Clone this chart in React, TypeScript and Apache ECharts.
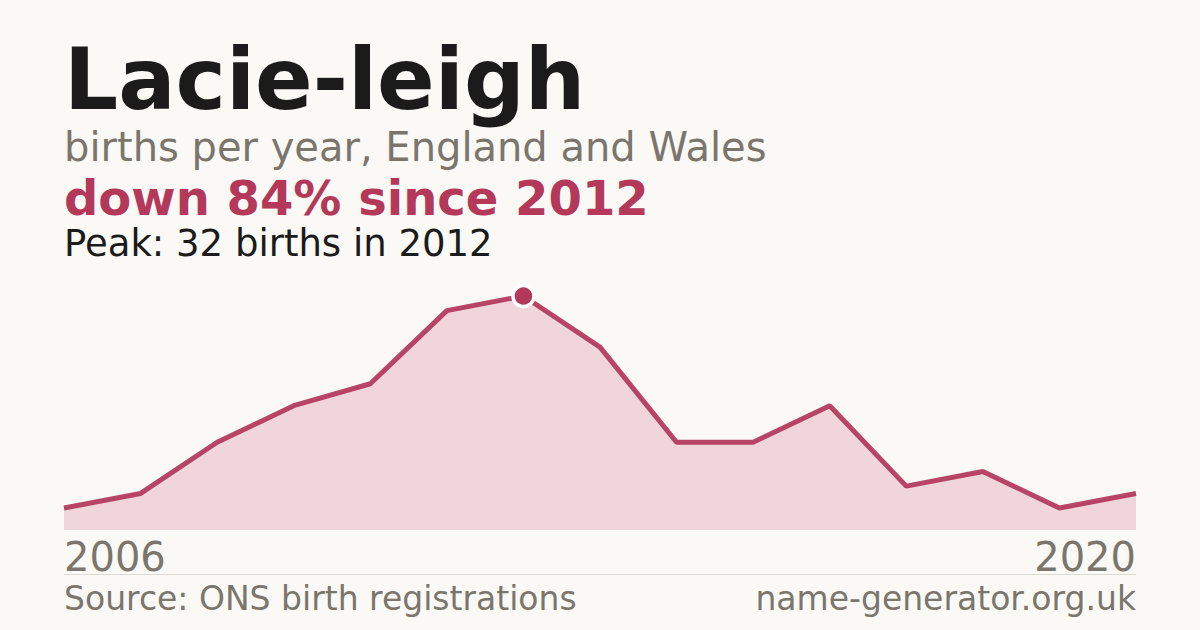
import React, { useEffect, useRef } from 'react';
import * as echarts from 'echarts';

// 数据
const years: string[] = [
  '2006', '2007', '2008', '2009', '2010', '2011', '2012', '2013',
  '2014', '2015', '2016', '2017', '2018', '2019', '2020',
];
const births: number[] = [3, 5, 12, 17, 20, 30, 32, 25, 12, 12, 17, 6, 8, 3, 5];

const name = 'Lacie-leigh';
const subtitle = 'births per year, England and Wales';
const changeText = 'down 84% since 2012';
const peakText = 'Peak: 32 births in 2012';
const sourceText = 'Source: ONS birth registrations';
const siteText = 'name-generator.org.uk';

const FONT = '"DejaVu Sans", Verdana, sans-serif';
const RED = '#b3385a';
const GREY = '#7a766e';

const App: React.FC = () => {
  const chartRef = useRef<HTMLDivElement | null>(null);

  useEffect(() => {
    if (!chartRef.current) return;
    const myChart = echarts.init(chartRef.current, null, { renderer: 'svg' });

    const peakIdx = births.indexOf(Math.max(...births));

    const option: echarts.EChartsOption = {
      animation: false,
      backgroundColor: '#faf9f5',
      grid: { left: 64, right: 64, top: 296, bottom: 100, containLabel: false },
      xAxis: {
        type: 'category',
        data: years,
        boundaryGap: false,
        axisLine: { show: false },
        axisTick: { show: false },
        axisLabel: {
          interval: (i: number) => i === 0 || i === years.length - 1,
          alignMinLabel: 'left',
          alignMaxLabel: 'right',
          margin: 7,
          color: GREY,
          fontSize: 40,
          fontFamily: FONT,
        },
      },
      yAxis: {
        type: 'value',
        min: 0,
        max: 32,
        show: false,
        splitLine: { show: false },
      },
      series: [
        {
          type: 'line',
          data: births,
          symbol: 'none',
          lineStyle: { color: RED, width: 5, opacity: 0.93 },
          areaStyle: { color: '#f0d5da', opacity: 1 },
          z: 2,
        },
        {
          type: 'scatter',
          data: [[years[peakIdx], births[peakIdx]]],
          symbol: 'circle',
          symbolSize: 21,
          itemStyle: { color: RED, borderColor: '#ffffff', borderWidth: 3.5, opacity: 1 },
          z: 3,
        },
      ],
      graphic: [
        {
          type: 'text',
          left: 64,
          top: 37,
          style: {
            text: name,
            font: `bold 85px ${FONT}`,
            lineHeight: 78,
            fill: '#1b1b1b',
          },
        },
        {
          type: 'text',
          left: 64,
          top: 127,
          style: {
            text: subtitle,
            font: `40px ${FONT}`,
            lineHeight: 40,
            fill: GREY,
          },
        },
        {
          type: 'text',
          left: 64,
          top: 174,
          style: {
            text: changeText,
            font: `bold 48px ${FONT}`,
            lineHeight: 48,
            fill: RED,
          },
        },
        {
          type: 'text',
          left: 64,
          top: 225,
          style: {
            text: peakText,
            font: `37px ${FONT}`,
            lineHeight: 37,
            fill: '#1b1b1b',
          },
        },
        {
          type: 'line',
          shape: { x1: 64, y1: 574.5, x2: 1136, y2: 574.5 },
          style: { stroke: '#dcd9d3', lineWidth: 1 },
        },
        {
          type: 'text',
          left: 64,
          top: 582,
          style: {
            text: sourceText,
            font: `33px ${FONT}`,
            fill: GREY,
          },
        },
        {
          type: 'text',
          right: 64,
          top: 582,
          style: {
            text: siteText,
            font: `33px ${FONT}`,
            fill: GREY,
          },
        },
      ],
    };

    myChart.setOption(option);
    return () => {
      myChart.dispose();
    };
  }, []);

  return (
    <div
      ref={chartRef}
      style={{ position: 'fixed', left: 0, top: 0, width: 1200, height: 630 }}
    ></div>
  );
};

export default App;
